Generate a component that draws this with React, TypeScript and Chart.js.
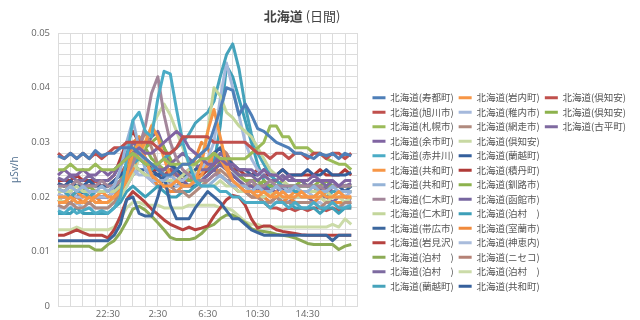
import React, { useEffect, useRef } from 'react';
import { Chart, registerables } from 'chart.js';

Chart.register(...registerables);

// ---- Data ----
const TIME_LABELS = ['18:30','19:00','19:30','20:00','20:30','21:00','21:30','22:00','22:30','23:00','23:30','0:00','0:30','1:00','1:30','2:00','2:30','3:00','3:30','4:00','4:30','5:00','5:30','6:00','6:30','7:00','7:30','8:00','8:30','9:00','9:30','10:00','10:30','11:00','11:30','12:00','12:30','13:00','13:30','14:00','14:30','15:00','15:30','16:00','16:30','17:00','17:30','18:00','18:30'];
const X_TICK_LABELS = ['22:30', '2:30', '6:30', '10:30', '14:30'];
const Y_TICK_LABELS = ['0', '0.01', '0.02', '0.03', '0.04', '0.05'];
const TITLE_MAIN = '北海道';
const TITLE_SUB = ' (日間)';
const Y_TITLE = 'μSv/h';

const suttsu = [0.0275,0.027,0.028,0.027,0.028,0.027,0.0285,0.0275, 0.028,0.028,0.029,0.029,0.029,0.028,0.027,0.026, 0.025,0.024,0.024,0.025,0.026,0.026,0.027,0.028, 0.029,0.0325,0.036,0.040,0.0395,0.035,0.037,0.035, 0.0325,0.032,0.031,0.030,0.0295,0.029,0.028,0.028, 0.0275,0.027,0.028,0.0275,0.028,0.027,0.028,0.0275];
const asahikawa = [0.028,0.027,0.028,0.027,0.028,0.027,0.028,0.027, 0.028,0.029,0.029,0.030,0.030,0.030,0.030,0.030, 0.029,0.028,0.028,0.029,0.031,0.031,0.031,0.031, 0.031,0.030,0.030,0.030,0.030,0.030,0.030,0.029, 0.028,0.028,0.027,0.028,0.028,0.027,0.028,0.028, 0.027,0.028,0.028,0.027,0.028,0.028,0.027,0.028];
const sapporo = [0.025,0.025,0.026,0.025,0.025,0.025,0.026,0.025, 0.025,0.025,0.026,0.027,0.028,0.027,0.026,0.026, 0.026,0.027,0.026,0.026,0.026,0.026,0.026,0.027, 0.027,0.028,0.027,0.027,0.027,0.027,0.027,0.028, 0.029,0.030,0.033,0.033,0.031,0.031,0.029,0.029, 0.029,0.028,0.028,0.027,0.0265,0.026,0.026,0.025];
const yoichi = [0.024,0.025,0.024,0.024,0.025,0.024,0.024,0.025, 0.024,0.025,0.026,0.027,0.028,0.029,0.028,0.028, 0.029,0.030,0.031,0.032,0.031,0.029,0.028,0.027, 0.026,0.026,0.027,0.026,0.026,0.025,0.025,0.025, 0.024,0.025,0.024,0.024,0.023,0.024,0.023,0.023, 0.023,0.024,0.023,0.023,0.023,0.022,0.023,0.023];
const akaigawa = [0.0175,0.017,0.018,0.017,0.0175,0.018,0.017,0.0175, 0.017,0.018,0.020,0.027,0.034,0.0355,0.032,0.031, 0.038,0.043,0.0425,0.036,0.030,0.026,0.023,0.022, 0.022,0.022,0.021,0.021,0.020,0.020,0.019,0.019, 0.019,0.019,0.018,0.019,0.019,0.018,0.019,0.018, 0.018,0.019,0.018,0.018,0.019,0.018,0.018,0.0185];
const kyowaA = [0.019,0.019,0.020,0.019,0.019,0.020,0.019,0.019, 0.019,0.020,0.021,0.024,0.028,0.030,0.027,0.024, 0.023,0.022,0.022,0.023,0.022,0.022,0.023,0.026, 0.032,0.036,0.031,0.026,0.023,0.022,0.021,0.021, 0.020,0.021,0.020,0.020,0.021,0.020,0.020,0.021, 0.020,0.020,0.021,0.020,0.020,0.021,0.020,0.020];
const kyowaB = [0.0215,0.021,0.022,0.021,0.022,0.021,0.021,0.022, 0.021,0.022,0.025,0.030,0.034,0.029,0.025,0.024, 0.023,0.023,0.024,0.023,0.022,0.022,0.023,0.022, 0.022,0.023,0.024,0.023,0.022,0.022,0.022,0.021, 0.022,0.021,0.021,0.022,0.021,0.021,0.022,0.021, 0.021,0.022,0.021,0.021,0.022,0.021,0.021,0.021];
const nikiA = [0.022,0.022,0.022,0.023,0.022,0.022,0.022,0.023, 0.022,0.022,0.023,0.024,0.026,0.029,0.033,0.039, 0.042,0.035,0.030,0.027,0.025,0.024,0.023,0.023, 0.023,0.024,0.024,0.023,0.023,0.022,0.022,0.023, 0.022,0.022,0.023,0.022,0.022,0.022,0.022,0.022, 0.022,0.022,0.022,0.021,0.022,0.022,0.022,0.022];
const nikiB = [0.021,0.021,0.021,0.022,0.021,0.021,0.021,0.021, 0.021,0.021,0.022,0.024,0.026,0.025,0.024,0.024, 0.023,0.023,0.023,0.023,0.024,0.025,0.026,0.027, 0.032,0.040,0.0385,0.0355,0.0345,0.033,0.032,0.031, 0.029,0.027,0.025,0.024,0.023,0.022,0.022,0.021, 0.021,0.021,0.021,0.021,0.020,0.021,0.021,0.021];
const obihiro = [0.012,0.012,0.012,0.012,0.012,0.012,0.012,0.012, 0.012,0.013,0.015,0.0195,0.020,0.017,0.0165,0.0165, 0.020,0.024,0.0185,0.016,0.016,0.016,0.018,0.0195, 0.021,0.020,0.019,0.0175,0.016,0.016,0.015,0.014, 0.0135,0.013,0.013,0.013,0.013,0.013,0.013,0.013, 0.013,0.013,0.013,0.013,0.012,0.013,0.013,0.013];
const iwamizawa = [0.013,0.013,0.0135,0.014,0.0135,0.013,0.013,0.013, 0.0125,0.014,0.0165,0.0195,0.021,0.020,0.019,0.0178, 0.0168,0.0158,0.015,0.0145,0.014,0.0145,0.014,0.0143, 0.0147,0.0165,0.018,0.0195,0.0203,0.020,0.0185,0.016, 0.0143,0.0147,0.0147,0.014,0.0137,0.0135,0.0133,0.0131, 0.013,0.013,0.013,0.013,0.013,0.013,0.013,0.013];
const tomariA = [0.011,0.011,0.011,0.011,0.011,0.011,0.0103,0.0103, 0.0113,0.012,0.0135,0.0155,0.0178,0.0183,0.0176,0.0165, 0.0153,0.014,0.0126,0.0122,0.0122,0.0122,0.0125,0.0133, 0.0145,0.015,0.016,0.0167,0.0167,0.016,0.0153,0.0142, 0.0138,0.0137,0.0135,0.0132,0.013,0.0128,0.0125,0.012, 0.0115,0.0113,0.0113,0.0113,0.0113,0.0104,0.011,0.0113];
const tomariB = [0.0235,0.023,0.024,0.023,0.023,0.024,0.023,0.023, 0.023,0.024,0.026,0.028,0.030,0.029,0.027,0.026, 0.025,0.025,0.026,0.027,0.028,0.027,0.026,0.025, 0.025,0.026,0.028,0.027,0.025,0.024,0.024,0.024, 0.023,0.024,0.023,0.023,0.024,0.023,0.023,0.023, 0.022,0.023,0.023,0.022,0.023,0.022,0.022,0.0225];
const rankoshiA = [0.021,0.021,0.020,0.021,0.021,0.020,0.021,0.021, 0.021,0.021,0.022,0.024,0.026,0.027,0.026,0.025, 0.026,0.027,0.028,0.029,0.030,0.0315,0.0335,0.0345, 0.0355,0.0375,0.042,0.046,0.048,0.0435,0.0367,0.0315, 0.028,0.026,0.024,0.023,0.022,0.022,0.021,0.021, 0.021,0.021,0.021,0.020,0.021,0.021,0.021,0.021];
const iwanai = [0.020,0.020,0.020,0.021,0.020,0.020,0.020,0.021, 0.020,0.020,0.021,0.023,0.025,0.028,0.030,0.033, 0.031,0.027,0.024,0.023,0.022,0.022,0.023,0.024, 0.026,0.028,0.027,0.025,0.023,0.022,0.022,0.021, 0.021,0.021,0.020,0.021,0.020,0.020,0.021,0.020, 0.020,0.020,0.020,0.021,0.020,0.020,0.020,0.020];
const wakkanai = [0.0205,0.020,0.021,0.020,0.020,0.021,0.020,0.020, 0.020,0.021,0.022,0.024,0.025,0.024,0.024,0.023, 0.023,0.023,0.022,0.023,0.023,0.024,0.024,0.025, 0.027,0.030,0.038,0.0445,0.040,0.035,0.030,0.027, 0.025,0.024,0.023,0.022,0.022,0.021,0.021,0.021, 0.021,0.020,0.021,0.021,0.020,0.021,0.020,0.021];
const abashiri = [0.0185,0.018,0.019,0.018,0.018,0.019,0.018,0.018, 0.018,0.019,0.021,0.023,0.026,0.029,0.032,0.029, 0.026,0.024,0.022,0.021,0.021,0.020,0.021,0.022, 0.023,0.024,0.025,0.024,0.023,0.022,0.021,0.020, 0.020,0.019,0.019,0.020,0.019,0.019,0.019,0.019, 0.019,0.019,0.018,0.019,0.019,0.018,0.019,0.019];
const kutchanA = [0.0195,0.019,0.020,0.019,0.019,0.020,0.019,0.019, 0.019,0.019,0.020,0.022,0.024,0.027,0.030,0.033, 0.035,0.037,0.035,0.032,0.029,0.026,0.024,0.023, 0.022,0.022,0.023,0.022,0.022,0.021,0.021,0.021, 0.020,0.020,0.021,0.020,0.020,0.020,0.020,0.020, 0.020,0.020,0.020,0.019,0.020,0.020,0.019,0.020];
const rankoshiB = [0.0225,0.022,0.023,0.022,0.022,0.023,0.022,0.022, 0.022,0.023,0.024,0.025,0.026,0.025,0.025,0.024, 0.024,0.025,0.026,0.025,0.024,0.024,0.025,0.026, 0.027,0.028,0.029,0.027,0.026,0.025,0.025,0.024, 0.024,0.025,0.024,0.024,0.025,0.024,0.024,0.024, 0.025,0.024,0.024,0.025,0.024,0.024,0.024,0.0245];
const shakotan = [0.023,0.023,0.023,0.024,0.023,0.023,0.023,0.023, 0.023,0.024,0.027,0.030,0.032,0.030,0.027,0.025, 0.025,0.024,0.024,0.025,0.024,0.025,0.024,0.024, 0.025,0.026,0.027,0.026,0.025,0.025,0.024,0.024, 0.025,0.024,0.024,0.024,0.025,0.024,0.024,0.024, 0.024,0.024,0.025,0.024,0.024,0.024,0.025,0.024];
const kushiro = [0.0215,0.021,0.022,0.021,0.021,0.022,0.021,0.021, 0.021,0.022,0.023,0.025,0.027,0.028,0.029,0.030, 0.031,0.029,0.027,0.025,0.024,0.023,0.023,0.024, 0.025,0.026,0.027,0.026,0.025,0.024,0.023,0.023, 0.022,0.023,0.022,0.022,0.023,0.022,0.022,0.022, 0.022,0.022,0.023,0.022,0.022,0.022,0.022,0.022];
const hakodate = [0.0205,0.020,0.021,0.020,0.020,0.021,0.020,0.020, 0.020,0.021,0.022,0.024,0.026,0.027,0.029,0.031, 0.032,0.029,0.026,0.024,0.023,0.022,0.023,0.023, 0.024,0.025,0.026,0.025,0.024,0.023,0.022,0.022, 0.021,0.022,0.021,0.021,0.022,0.021,0.021,0.021, 0.021,0.021,0.021,0.022,0.021,0.021,0.021,0.021];
const tomariC = [0.017,0.017,0.017,0.018,0.017,0.017,0.017,0.017, 0.017,0.018,0.019,0.021,0.022,0.021,0.020,0.021, 0.022,0.021,0.020,0.020,0.021,0.021,0.022,0.023, 0.024,0.026,0.033,0.044,0.042,0.038,0.034,0.030, 0.026,0.023,0.021,0.020,0.019,0.019,0.018,0.018, 0.018,0.018,0.017,0.018,0.018,0.017,0.018,0.018];
const muroran = [0.0195,0.019,0.019,0.020,0.019,0.019,0.020,0.019, 0.019,0.020,0.022,0.026,0.030,0.031,0.027,0.024, 0.022,0.022,0.021,0.021,0.022,0.024,0.027,0.030, 0.029,0.026,0.024,0.023,0.022,0.021,0.021,0.020, 0.020,0.020,0.019,0.020,0.019,0.020,0.019,0.019, 0.019,0.019,0.020,0.019,0.019,0.019,0.019,0.019];
const kamoenai = [0.018,0.018,0.018,0.019,0.018,0.018,0.018,0.018, 0.018,0.019,0.020,0.022,0.024,0.025,0.024,0.023, 0.022,0.022,0.023,0.022,0.022,0.022,0.023,0.024, 0.025,0.027,0.028,0.027,0.025,0.023,0.022,0.021, 0.020,0.020,0.019,0.019,0.020,0.019,0.019,0.019, 0.019,0.019,0.019,0.018,0.019,0.019,0.018,0.019];
const niseko = [0.0215,0.021,0.022,0.021,0.021,0.022,0.021,0.021, 0.021,0.022,0.023,0.024,0.025,0.025,0.024,0.024, 0.023,0.023,0.024,0.024,0.023,0.023,0.024,0.025, 0.026,0.028,0.029,0.028,0.026,0.024,0.023,0.022, 0.022,0.022,0.021,0.022,0.022,0.021,0.022,0.021, 0.021,0.021,0.022,0.021,0.021,0.021,0.021,0.021];
const tomariD = [0.014,0.014,0.014,0.0145,0.014,0.014,0.014,0.014, 0.014,0.0145,0.016,0.018,0.019,0.019,0.0185,0.0185, 0.0185,0.018,0.018,0.018,0.018,0.0185,0.0185,0.0185, 0.0185,0.0185,0.018,0.018,0.0175,0.0165,0.0155,0.015, 0.015,0.0145,0.0145,0.0145,0.0145,0.0145,0.0145,0.0145, 0.0145,0.0145,0.0145,0.0145,0.015,0.0145,0.016,0.015];
const kyowaC = [0.020,0.020,0.020,0.020,0.021,0.020,0.020,0.020, 0.020,0.021,0.023,0.025,0.027,0.028,0.027,0.025, 0.024,0.023,0.022,0.022,0.023,0.022,0.022,0.023, 0.024,0.025,0.026,0.025,0.024,0.023,0.022,0.022, 0.022,0.021,0.022,0.022,0.021,0.022,0.022,0.022, 0.022,0.022,0.021,0.022,0.022,0.022,0.021,0.022];
const kutchanB = [0.0225,0.022,0.023,0.022,0.022,0.022,0.023,0.022, 0.022,0.023,0.024,0.026,0.028,0.027,0.026,0.025, 0.024,0.024,0.025,0.024,0.024,0.025,0.024,0.024, 0.025,0.026,0.027,0.025,0.024,0.023,0.022,0.021, 0.020,0.019,0.018,0.018,0.0175,0.018,0.0175,0.018, 0.0175,0.018,0.018,0.0175,0.018,0.0175,0.018,0.018];
const kutchanC = [0.022,0.022,0.022,0.023,0.022,0.022,0.022,0.022, 0.022,0.023,0.024,0.026,0.028,0.031,0.029,0.027, 0.026,0.025,0.025,0.024,0.024,0.024,0.025,0.025, 0.026,0.027,0.026,0.025,0.024,0.024,0.023,0.023, 0.023,0.022,0.022,0.023,0.022,0.022,0.022,0.023, 0.022,0.022,0.022,0.023,0.022,0.022,0.022,0.022];
const furubira = [0.0195,0.019,0.020,0.019,0.019,0.020,0.019,0.019, 0.019,0.020,0.021,0.022,0.024,0.025,0.024,0.023, 0.022,0.022,0.023,0.023,0.022,0.022,0.022,0.023, 0.024,0.025,0.024,0.023,0.022,0.021,0.021,0.020, 0.020,0.020,0.019,0.020,0.020,0.019,0.020,0.020, 0.020,0.019,0.020,0.020,0.019,0.020,0.020,0.0195];

const SERIES_LABELS = [
  '北海道(寿都町)', '北海道(旭川市)', '北海道(札幌市)', '北海道(余市町)', '北海道(赤井川)',
  '北海道(共和町)', '北海道(共和町)', '北海道(仁木町)', '北海道(仁木町)', '北海道(帯広市)',
  '北海道(岩見沢)', '北海道(泊村　)', '北海道(泊村　)', '北海道(蘭越町)',
  '北海道(岩内町)', '北海道(稚内市)', '北海道(網走市)', '北海道(倶知安)', '北海道(蘭越町)',
  '北海道(積丹町)', '北海道(釧路市)', '北海道(函館市)', '北海道(泊村　)', '北海道(室蘭市)',
  '北海道(神恵内)', '北海道(ニセコ)', '北海道(泊村　)', '北海道(共和町)',
  '北海道(倶知安)', '北海道(倶知安)', '北海道(古平町)',
];
const SERIES_VALUES = [
  suttsu, asahikawa, sapporo, yoichi, akaigawa, kyowaA, kyowaB, nikiA, nikiB, obihiro,
  iwamizawa, tomariA, tomariB, rankoshiA,
  iwanai, wakkanai, abashiri, kutchanA, rankoshiB, shakotan, kushiro, hakodate, tomariC, muroran,
  kamoenai, niseko, tomariD, kyowaC,
  kutchanB, kutchanC, furubira,
];
const SERIES_COLORS = [
  '#4f7fb8', '#c0504d', '#9bbb59', '#8064a2', '#4bacc6',
  '#f79646', '#95b3d7', '#a3869a', '#c3d69b', '#3c679e',
  '#b6423f', '#8cab55', '#7d6aa0', '#46a3bb',
  '#f79646', '#a5b9dc', '#b08a7e', '#c8d9a3', '#345f9c',
  '#b03a37', '#8db24d', '#7766a0', '#3d9fb8', '#f08a3c',
  '#a9bcdc', '#b58276', '#cbdba8', '#36609c',
  '#c0504d', '#8db24d', '#7f6aa0',
];

const GRID = '#dcdcdc';
const TICK_COLOR = '#666666';
const TICK_FONT = { family: "'Open Sans', 'Liberation Sans', sans-serif", size: 9.5 };
const CJK_FONT = "'Noto Sans CJK JP', sans-serif";

const titlePlugin = {
  id: 'twoWeightTitle',
  afterDraw(chart: any) {
    const { ctx, chartArea } = chart;
    ctx.save();
    ctx.textBaseline = 'middle';
    ctx.textAlign = 'left';
    ctx.fillStyle = '#454545';
    const boldFont = `bold 13px ${CJK_FONT}`;
    const normalFont = `13px ${CJK_FONT}`;
    ctx.font = boldFont;
    const w1 = ctx.measureText(TITLE_MAIN).width;
    ctx.font = normalFont;
    const w2 = ctx.measureText(TITLE_SUB).width;
    const right = chartArea.right - 17;
    const x0 = right - w1 - w2;
    ctx.font = boldFont;
    ctx.fillText(TITLE_MAIN, x0, 16);
    ctx.font = normalFont;
    ctx.fillText(TITLE_SUB, x0 + w1, 16);
    ctx.restore();
  },
};

export default function App() {
  const canvasRef = useRef<HTMLCanvasElement | null>(null);

  useEffect(() => {
    const canvas = canvasRef.current;
    if (!canvas) return;
    const datasets = SERIES_VALUES.map((values, i) => ({
      label: SERIES_LABELS[i],
      data: values,
      borderColor: SERIES_COLORS[i],
      backgroundColor: SERIES_COLORS[i],
      borderWidth: 3,
      pointRadius: 0,
      pointHoverRadius: 0,
      tension: 0,
      borderJoinStyle: 'round' as const,
      fill: false,
    }));

    const chart = new Chart(canvas, {
      type: 'line',
      data: { labels: TIME_LABELS, datasets },
      plugins: [titlePlugin],
      options: {
        responsive: false,
        animation: false,
        events: [],
        layout: { padding: { top: 33, right: 4, bottom: 0, left: 0 } },
        plugins: {
          title: { display: false },
          tooltip: { enabled: false },
          legend: {
            position: 'right',
            align: 'start',
            fullSize: false,
            maxWidth: 300,
            title: {
              display: true,
              text: '',
              padding: { top: 45, bottom: 0 },
              font: { size: 10, lineHeight: 1 },
            },
            labels: {
              boxWidth: 13,
              boxHeight: 3,
              padding: 5,
              color: '#555555',
              font: { family: CJK_FONT, size: 9.5 },
              generateLabels: (c: any) =>
                (Chart.defaults.plugins.legend.labels.generateLabels as any)(c).map((it: any) => ({
                  ...it,
                  fillStyle: it.strokeStyle,
                  lineWidth: 0,
                })),
            },
          },
        },
        scales: {
          x: {
            type: 'category',
            offset: false,
            grid: {
              color: (ctx: any) => (ctx.index % 2 === 0 ? GRID : 'rgba(0,0,0,0)'),
              drawTicks: false,
            },
            border: { color: GRID },
            ticks: {
              autoSkip: false,
              maxRotation: 0,
              padding: 2,
              color: TICK_COLOR,
              font: TICK_FONT,
              callback: (_v: any, i: number) =>
                X_TICK_LABELS.includes(TIME_LABELS[i]) ? TIME_LABELS[i] : '',
            },
            afterFit: (s: any) => {
              s.height = 11;
            },
          },
          y: {
            min: 0,
            max: 0.05,
            grid: { color: GRID, drawTicks: false },
            border: { color: GRID },
            ticks: {
              stepSize: 0.002,
              autoSkip: false,
              padding: 8,
              color: TICK_COLOR,
              font: TICK_FONT,
              callback: (v: any) => {
                const s = String(Math.round(Number(v) * 1000) / 1000);
                return Y_TICK_LABELS.includes(s) ? s : '';
              },
            },
            title: {
              display: true,
              text: Y_TITLE,
              color: '#4f6e8e',
              font: { family: "'Open Sans', sans-serif", size: 10 },
              padding: { top: 9, bottom: 0 },
            },
            afterFit: (s: any) => {
              s.width = 58;
            },
          },
          y2: {
            position: 'right',
            display: true,
            grid: { display: false },
            border: { display: false },
            ticks: { display: false },
            afterFit: (s: any) => {
              s.width = 10;
            },
          },
        },
      } as any,
    });
    return () => chart.destroy();
  }, []);

  return (
    <div style={{ position: 'fixed', left: 0, top: 0, width: 640, height: 320, background: '#fff' }}>
      <canvas ref={canvasRef} width={640} height={320} style={{ display: 'block' }} />
    </div>
  );
}
